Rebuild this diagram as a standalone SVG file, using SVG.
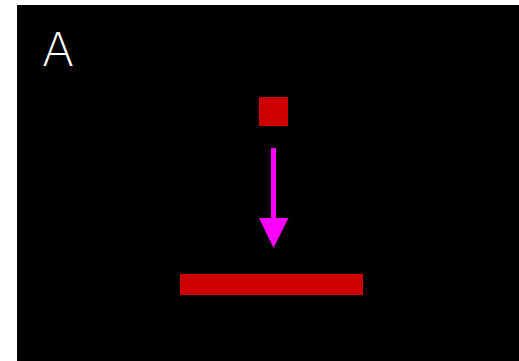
<svg xmlns="http://www.w3.org/2000/svg" width="519" height="361" viewBox="0 0 519 361">
<style>
.red{fill:#cc0000}
.lbl{font-family:"DejaVu Sans",sans-serif;font-weight:200;font-size:47px;fill:#ffffff}
</style>
<rect x="0" y="0" width="519" height="361" fill="#ffffff"/>
<rect x="17" y="5" width="502" height="356" fill="#000000"/>
<text class="lbl" x="42" y="66">A</text>
<g id="block"><rect class="red" x="259" y="97" width="29" height="29"/></g>
<g id="floor"><rect class="red" x="180" y="274" width="183" height="21"/></g>
<g id="connectors">
<rect x="271" y="148" width="5" height="71" fill="#ff00ff"/>
<polygon points="259,218 288.5,218 273.5,248" fill="#ff00ff"/>
</g>
</svg>
